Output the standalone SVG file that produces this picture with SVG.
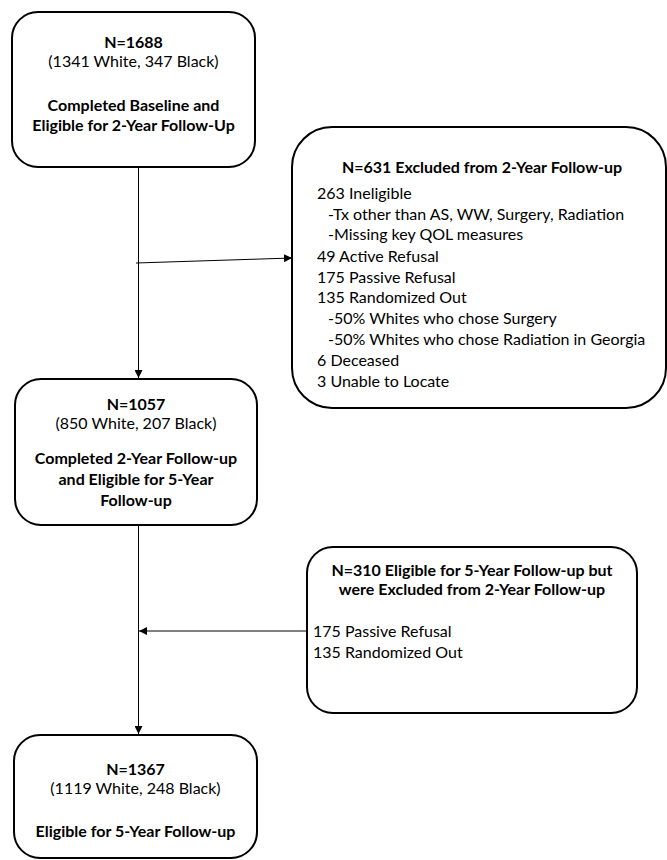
<svg xmlns="http://www.w3.org/2000/svg" width="667" height="860" viewBox="0 0 667 860">
<defs>
<marker id="ah" viewBox="0 0 10 10" refX="10" refY="5" markerWidth="8" markerHeight="8" markerUnits="userSpaceOnUse" orient="auto">
<path d="M0,0 L10,5 L0,10 z" fill="#000"/>
</marker>
<style>
.box{fill:#fff;stroke:#000;stroke-width:2}
.t{font-family:Lato,"Liberation Sans",sans-serif;font-size:16px;fill:#000}
.b{font-weight:bold}
.c{text-anchor:middle}
.ln{stroke:#000;stroke-width:1;fill:none}
</style>
</defs>
<rect width="667" height="860" fill="#fff"/>
<g id="connectors">
<line class="ln" x1="138.5" y1="167" x2="138.5" y2="378" marker-end="url(#ah)"/>
<line class="ln" x1="136" y1="263" x2="292" y2="258" marker-end="url(#ah)"/>
<line class="ln" x1="138.5" y1="525" x2="138.5" y2="734" marker-end="url(#ah)"/>
<line class="ln" x1="307" y1="631" x2="139" y2="631" marker-end="url(#ah)"/>
</g>
<g id="n1688">
<rect class="box" x="12" y="12" width="243" height="155" rx="26"/>
<text class="t b c" x="133.5" y="48">N=1688</text>
<text class="t c" x="133.5" y="67">(1341 White, 347 Black)</text>
<text class="t b c" x="133.5" y="111">Completed Baseline and</text>
<text class="t b c" x="133.5" y="131">Eligible for 2-Year Follow-Up</text>
</g>
<g id="n631">
<rect class="box" x="292" y="127" width="374" height="281" rx="40"/>
<text class="t b c" x="482" y="173">N=631 Excluded from 2-Year Follow-up</text>
<text class="t" x="317" y="199">263 Ineligible</text>
<text class="t" x="328" y="220">-Tx other than AS, WW, Surgery, Radiation</text>
<text class="t" x="328" y="240">-Missing key QOL measures</text>
<text class="t" x="317" y="262">49 Active Refusal</text>
<text class="t" x="317" y="283">175 Passive Refusal</text>
<text class="t" x="317" y="303">135 Randomized Out</text>
<text class="t" x="328" y="324">-50% Whites who chose Surgery</text>
<text class="t" x="328" y="345">-50% Whites who chose Radiation in Georgia</text>
<text class="t" x="317" y="366">6 Deceased</text>
<text class="t" x="317" y="387">3 Unable to Locate</text>
</g>
<g id="n1057">
<rect class="box" x="15" y="379" width="242" height="146" rx="26"/>
<text class="t b c" x="136" y="410">N=1057</text>
<text class="t c" x="136" y="429">(850 White, 207 Black)</text>
<text class="t b c" x="136" y="464">Completed 2-Year Follow-up</text>
<text class="t b c" x="136" y="485">and Eligible for 5-Year</text>
<text class="t b c" x="136" y="506">Follow-up</text>
</g>
<g id="n310">
<rect class="box" x="307" y="547" width="330" height="166" rx="26"/>
<text class="t b c" x="472" y="576">N=310 Eligible for 5-Year Follow-up but</text>
<text class="t b c" x="472" y="595">were Excluded from 2-Year Follow-up</text>
<text class="t" x="313" y="637">175 Passive Refusal</text>
<text class="t" x="313" y="658">135 Randomized Out</text>
</g>
<g id="n1367">
<rect class="box" x="14" y="735" width="243" height="123" rx="26"/>
<text class="t b c" x="135.5" y="775">N=1367</text>
<text class="t c" x="135.5" y="794">(1119 White, 248 Black)</text>
<text class="t b c" x="135.5" y="837">Eligible for 5-Year Follow-up</text>
</g>
</svg>
